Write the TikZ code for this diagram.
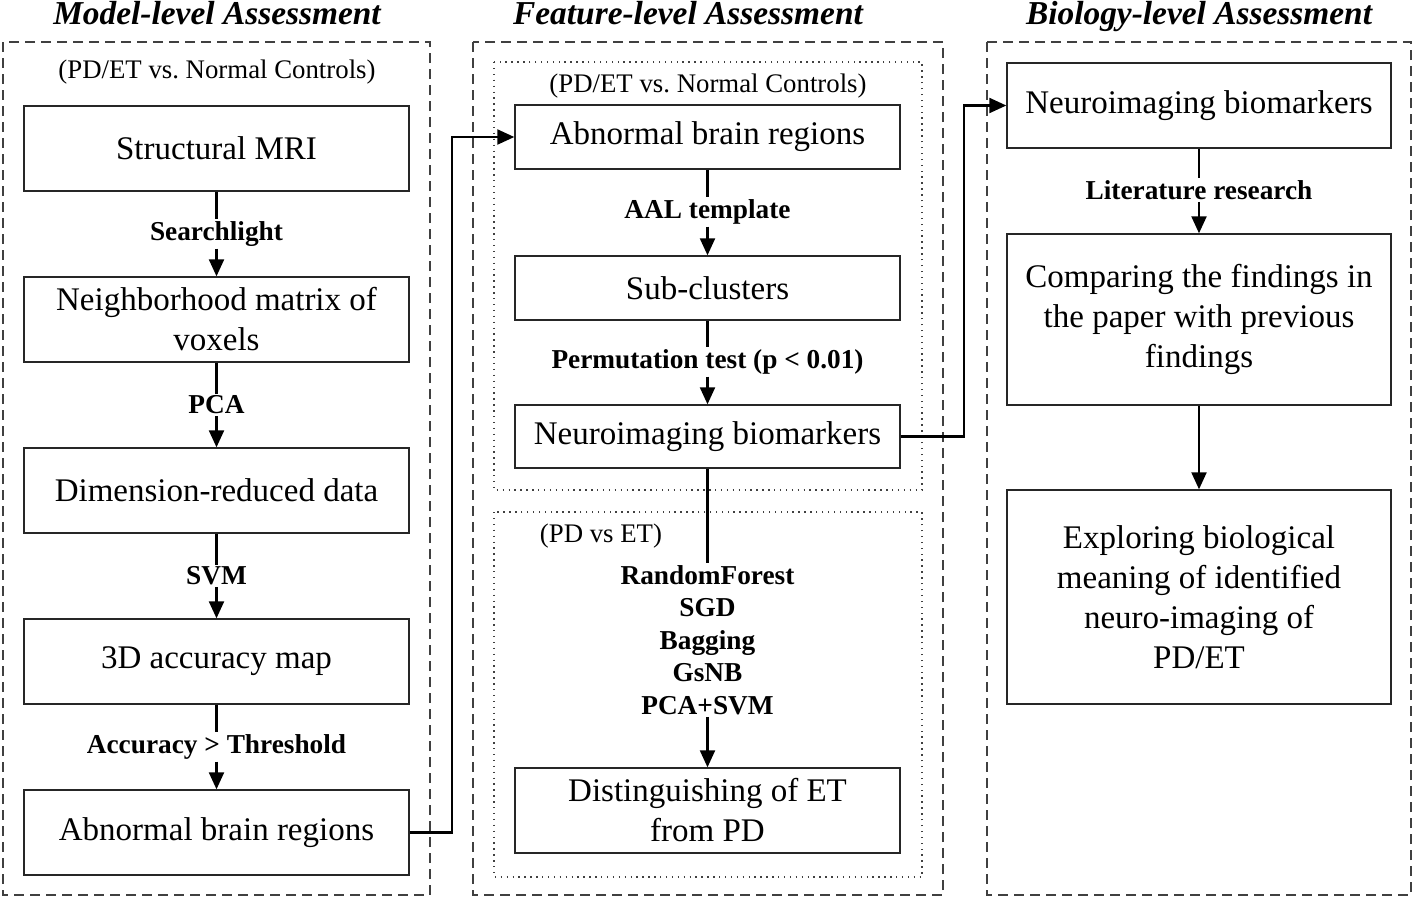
\documentclass[tikz,border=0pt]{standalone}
\usepackage{fontspec}
\setmainfont{Liberation Serif}
\usetikzlibrary{arrows.meta}
\tikzset{
	stagebox/.style={draw=black!85, line width=1.4pt, fill=white, inner sep=0pt, align=center, font=\fontsize{33}{40}\selectfont},
	steplabel/.style={inner sep=2pt, align=center, font=\fontsize{27.3}{32.5}\selectfont\bfseries},
	grouptitle/.style={inner sep=0pt, anchor=base, font=\fontsize{33.4}{38}\selectfont\bfseries\itshape},
	groupnote/.style={inner sep=0pt, anchor=base, font=\fontsize{26.8}{30}\selectfont},
	levelframe/.style={draw=black!75, line width=1.4pt, dash pattern=on 10pt off 6pt},
	subframe/.style={draw=black!75, line width=1.4pt, dash pattern=on 1.4pt off 4.5pt},
	link/.style={line width=2.2pt},
	flow/.style={line width=2.2pt, -{Triangle[length=17pt,width=15pt]}}
}

\begin{document}
\begin{tikzpicture}[x=1pt, y=-1pt]
			%%%%% START %%%%%
			\useasboundingbox (0, 0) rectangle (1415, 900);
			
			%%%%% frames %%%%%
			\draw[levelframe] (3, 42) rectangle (430, 895);
			\draw[levelframe] (473, 42) rectangle (943, 895);
			\draw[levelframe] (987, 42) rectangle (1411, 895);
			\draw[subframe] (494, 62) rectangle (922, 490);
			\draw[subframe] (494, 512) rectangle (922, 877);
			
			\node[grouptitle] (modelTitle) at (217, 24) {Model-level Assessment};
			\node[grouptitle] (featureTitle) at (688, 24) {Feature-level Assessment};
			\node[grouptitle] (biologyTitle) at (1199, 24) {Biology-level Assessment};
			
			%%%%% model level %%%%%
			\node[groupnote] (modelNote) at (217, 78) {(PD/ET vs.\ Normal Controls)};
			\node[stagebox, minimum width=385pt, minimum height=85pt] (mri) at (216.5, 148.5) {Structural MRI};
			\node[steplabel] (searchlight) at (216.5, 234) {Searchlight};
			\node[stagebox, minimum width=385pt, minimum height=85pt] (neigh) at (216.5, 319.5) {Neighborhood matrix of\\voxels};
			\node[steplabel] (pca) at (216.5, 405) {PCA};
			\node[stagebox, minimum width=385pt, minimum height=85pt] (dimred) at (216.5, 490.5) {Dimension-reduced data};
			\node[steplabel] (svm) at (216.5, 576) {SVM};
			\node[stagebox, minimum width=385pt, minimum height=85pt] (accmap) at (216.5, 661.5) {3D accuracy map};
			\node[steplabel] (thresh) at (216.5, 747) {Accuracy > Threshold};
			\node[stagebox, minimum width=385pt, minimum height=85pt] (abnormalA) at (216.5, 832.5) {Abnormal brain regions};
			
			\draw[link] (mri) -- (searchlight);
			\draw[flow] (searchlight) -- (neigh);
			\draw[link] (neigh) -- (pca);
			\draw[flow] (pca) -- (dimred);
			\draw[link] (dimred) -- (svm);
			\draw[flow] (svm) -- (accmap);
			\draw[link] (accmap) -- (thresh);
			\draw[flow] (thresh) -- (abnormalA);
			
			%%%%% feature level %%%%%
			\node[groupnote] (featureNote) at (708, 92) {(PD/ET vs.\ Normal Controls)};
			\node[stagebox, minimum width=385pt, minimum height=64pt] (abnormalB) at (707.5, 137) {Abnormal brain regions};
			\node[steplabel] (aal) at (707.5, 212) {AAL template};
			\node[stagebox, minimum width=385pt, minimum height=64pt] (subclust) at (707.5, 288) {Sub-clusters};
			\node[steplabel] (perm) at (707.5, 362) {Permutation test (p < 0.01)};
			\node[stagebox, minimum width=385pt, minimum height=63pt] (biomarkA) at (707.5, 436.5) {Neuroimaging biomarkers};
			\node[groupnote] (pdetNote) at (601, 542) {(PD vs ET)};
			\node[steplabel] (methods) at (707.5, 640) {RandomForest\\SGD\\Bagging\\GsNB\\PCA+SVM};
			\node[stagebox, minimum width=385pt, minimum height=85pt] (disting) at (707.5, 810.5) {Distinguishing of ET\\from PD};
			
			\draw[link] (abnormalB) -- (aal);
			\draw[flow] (aal) -- (subclust);
			\draw[link] (subclust) -- (perm);
			\draw[flow] (perm) -- (biomarkA);
			\draw[link] (biomarkA) -- (methods);
			\draw[flow] (methods) -- (disting);
			
			%%%%% biology level %%%%%
			\node[stagebox, minimum width=384pt, minimum height=85pt] (biomarkB) at (1199, 105.5) {Neuroimaging biomarkers};
			\node[steplabel] (litres) at (1199, 190) {Literature research};
			\node[stagebox, minimum width=384pt, minimum height=171pt] (compare) at (1199, 319.5) {Comparing the findings in\\the paper with previous\\findings};
			\node[stagebox, minimum width=384pt, minimum height=214pt] (explore) at (1199, 597) {Exploring biological\\meaning of identified\\neuro-imaging of\\PD/ET};
			
			\draw[link] (biomarkB) -- (litres);
			\draw[flow] (litres) -- (compare);
			\draw[flow] (compare) -- (explore);
			
			%%%%% between levels %%%%%
			\draw[flow] (abnormalA.east) -- (452, 832.5) |- (abnormalB.west);
			\draw[flow] (biomarkA.east) -- (964, 436.5) |- (biomarkB.west);
			
			%%%%% END %%%%%
		\end{tikzpicture}
\end{document}
